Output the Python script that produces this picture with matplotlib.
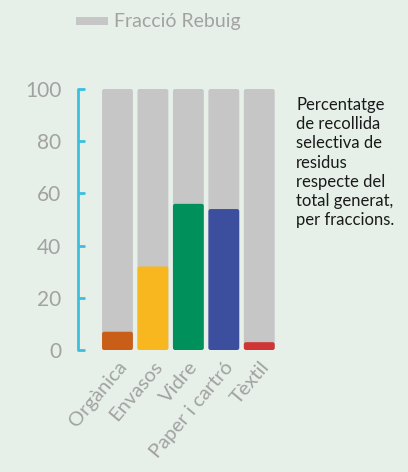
import matplotlib
matplotlib.use("Agg")
import matplotlib.pyplot as plt
from matplotlib.patches import Rectangle, FancyBboxPatch

categories = ["Orgànica", "Envasos", "Vidre", "Paper i cartró", "Tèxtil"]
selectiva = [7, 32, 56, 54, 3]
total = [100, 100, 100, 100, 100]
colors = ["#c85e17", "#f8b71f", "#00905c", "#3b4f9e", "#d03535"]
legend_label = "Fracció Rebuig"
note = "Percentatge\nde recollida\nselectiva de\nresidus\nrespecte del\ntotal generat,\nper fraccions."
yticks = [0, 20, 40, 60, 80, 100]

bg = "#e6f0e9"
gray = "#c6c6c6"
tickgray = "#a2a2a2"
cyan = "#3cbfdf"

plt.rcParams['font.family'] = ['Lato', 'DejaVu Sans']

fig = plt.figure(figsize=(4.08, 4.72), dpi=100, facecolor=bg)
ax = fig.add_axes([78/408, 1-350/472, 199/408, 261/472])
ax.set_facecolor(bg)

x = list(range(len(categories)))
xlim = (-1.113, 4.5)
ax.set_xlim(*xlim)
ax.set_ylim(0, 100)

px_per_x = 199 / (xlim[1] - xlim[0])
px_per_y = 261 / 100
radius = 2.2 / px_per_x
aspect = px_per_x / px_per_y


def rounded_bars(values, cols, z):
    bars = ax.bar(x, values, width=0.87, color=cols, zorder=z)
    for b in bars:
        fb = FancyBboxPatch((b.get_x(), b.get_y()), b.get_width(), b.get_height(),
                            boxstyle=f"round,pad=0,rounding_size={radius}",
                            mutation_aspect=aspect, facecolor=b.get_facecolor(),
                            edgecolor="none", zorder=z)
        ax.add_patch(fb)
        b.set_visible(False)


rounded_bars(total, gray, 2)
rounded_bars(selectiva, colors, 3)

for s in ["top", "right", "bottom"]:
    ax.spines[s].set_visible(False)
ax.spines["left"].set_color(cyan)
ax.spines["left"].set_linewidth(2)
ax.spines["left"].set_capstyle("round")
ax.set_yticks(yticks)
ax.tick_params(axis="y", direction="in", length=5, width=2, color=cyan,
               labelcolor=tickgray, labelsize=15, pad=12)
ax.set_xticks(x)
ax.set_xticklabels(categories, rotation=50, ha="right", rotation_mode="anchor",
                   fontsize=14.5, color=tickgray)
ax.tick_params(axis="x", length=0, pad=6)

fig.add_artist(Rectangle((76/408, 1-25/472), 32/408, 8/472, transform=fig.transFigure,
                         facecolor=gray, edgecolor="none"))
fig.text(114/408, 1-21/472, legend_label, ha="left", va="center", fontsize=14,
         color=tickgray)

fig.text(296/408, 1-97/472, note, ha="left", va="top", fontsize=12,
         color="#1a1a1a", linespacing=1.25)

fig.savefig("out.png", dpi=100, facecolor=bg)
